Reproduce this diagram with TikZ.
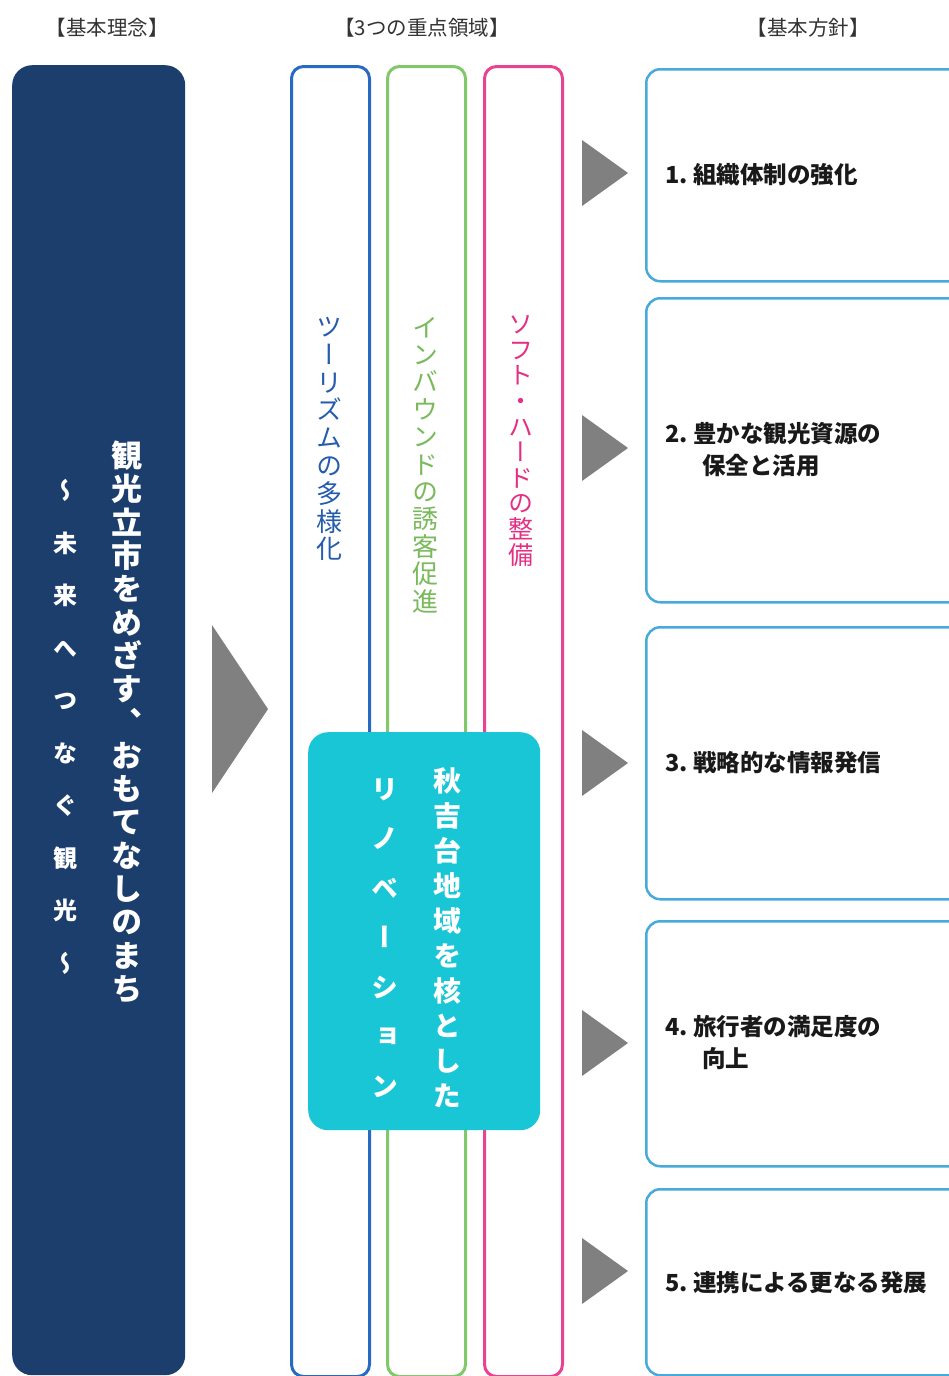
\documentclass[tikz,border=0pt]{standalone}
\usepackage{fontspec}
\newfontfamily\jp{Noto Sans CJK JP}
\newfontfamily\vjp[RawFeature=+vert]{Noto Sans CJK JP}
\definecolor{navy}{RGB}{27,62,108}
\definecolor{colblue}{RGB}{40,106,194}
\definecolor{colgreen}{RGB}{128,200,106}
\definecolor{colpink}{RGB}{232,66,146}
\definecolor{txtblue}{RGB}{38,92,172}
\definecolor{txtgreen}{RGB}{122,186,92}
\definecolor{txtpink}{RGB}{228,48,132}
\definecolor{cyanbox}{RGB}{24,198,214}
\definecolor{boxblue}{RGB}{72,170,218}
\definecolor{arrowgray}{RGB}{128,128,128}
\begin{document}
\begin{tikzpicture}[x=1pt,y=-1pt,
  hdr/.style={font=\jp\fontsize{20.5}{24}\selectfont, text=black!80, inner sep=0pt},
  colbox/.style={line width=3pt, rounded corners=12pt, fill=white, minimum width=78pt, minimum height=1310pt, anchor=north west, inner sep=0pt},
  vtxt/.style={align=center, inner sep=0pt},
  tri/.style={fill=arrowgray, draw=none},
  pbox/.style={draw=boxblue, line width=2.5pt, rounded corners=14pt, fill=white, minimum width=330pt, anchor=north west, inner sep=0pt},
  ptxt/.style={anchor=west, align=left, font=\jp\bfseries\fontsize{23.5}{32}\selectfont, inner sep=0pt, text=black!90}]
\useasboundingbox (0,0) rectangle (949,1376);
\clip (0,0) rectangle (949,1376);
\fill[white] (0,0) rectangle (949,1376);

% headers
\node[hdr] (h1) at (107,28) {【基本理念】};
\node[hdr] (h2) at (422,28) {【3つの重点領域】};
\node[hdr] (h3) at (808,28) {【基本方針】};

% left navy box
\node[fill=navy, rounded corners=20pt, minimum width=173pt, minimum height=1310pt, anchor=north west, inner sep=0pt] (idea) at (12,65) {};
\node[vtxt, text=white, font=\vjp\bfseries\fontsize{31}{33.3}\selectfont] (ideamain) at (127,722)
  {観\\光\\立\\市\\を\\め\\ざ\\す\\、\\お\\も\\て\\な\\し\\の\\ま\\ち};
\node[vtxt, text=white, font=\vjp\bfseries\fontsize{24}{52.5}\selectfont] (ideasub) at (65,727)
  {～\\未\\来\\へ\\つ\\な\\ぐ\\観\\光\\～};

% big arrow
\path[tri] (212,625) -- (268,709) -- (212,793) -- cycle;

% three columns
\node[colbox, draw=colblue] (c1) at (290,65) {};
\node[colbox, draw=colgreen] (c2) at (386,65) {};
\node[colbox, draw=colpink] (c3) at (483,65) {};
\node[vtxt, text=txtblue, font=\vjp\fontsize{26}{27.8}\selectfont] (t1) at (329,439)
  {ツ\\ー\\リ\\ズ\\ム\\の\\多\\様\\化};
\node[vtxt, text=txtgreen, font=\vjp\fontsize{26}{27.4}\selectfont] (t2) at (425,465)
  {イ\\ン\\バ\\ウ\\ン\\ド\\の\\誘\\客\\促\\進};
\node[vtxt, text=txtpink, font=\vjp\fontsize{25}{25.6}\selectfont] (t3) at (521,441)
  {ソ\\フ\\ト\\・\\ハ\\ー\\ド\\の\\整\\備};

% cyan box
\node[fill=cyanbox, rounded corners=20pt, minimum width=232pt, minimum height=398pt, anchor=north west, inner sep=0pt] (reno) at (308,732) {};
\node[vtxt, text=white, font=\vjp\bfseries\fontsize{28}{35}\selectfont] (reno1) at (447,938)
  {秋\\吉\\台\\地\\域\\を\\核\\と\\し\\た};
\node[vtxt, text=white, font=\vjp\bfseries\fontsize{27}{49.5}\selectfont] (reno2) at (385,938)
  {リ\\ノ\\ベ\\ー\\シ\\ョ\\ン};

% small arrows
\path[tri] (582,140) -- (628,173) -- (582,206) -- cycle;
\path[tri] (582,415) -- (628,448) -- (582,481) -- cycle;
\path[tri] (582,730) -- (628,763) -- (582,796) -- cycle;
\path[tri] (582,1010) -- (628,1043) -- (582,1076) -- cycle;
\path[tri] (582,1238) -- (628,1271) -- (582,1304) -- cycle;

% policy boxes
\node[pbox, minimum height=212pt] (p1) at (645,68) {};
\node[pbox, minimum height=304pt] (p2) at (645,297) {};
\node[pbox, minimum height=272pt] (p3) at (645,626) {};
\node[pbox, minimum height=245pt] (p4) at (645,920) {};
\node[pbox, minimum height=186pt] (p5) at (645,1188) {};
\node[ptxt] (l1) at (665,175) {1.\ 組織体制の強化};
\node[ptxt] (l2) at (665,450) {2.\ 豊かな観光資源の\\\hspace*{37pt}保全と活用};
\node[ptxt] (l3) at (665,763) {3.\ 戦略的な情報発信};
\node[ptxt] (l4) at (665,1043) {4.\ 旅行者の満足度の\\\hspace*{37pt}向上};
\node[ptxt] (l5) at (665,1283) {5.\ 連携による更なる発展};
\end{tikzpicture}
\end{document}
